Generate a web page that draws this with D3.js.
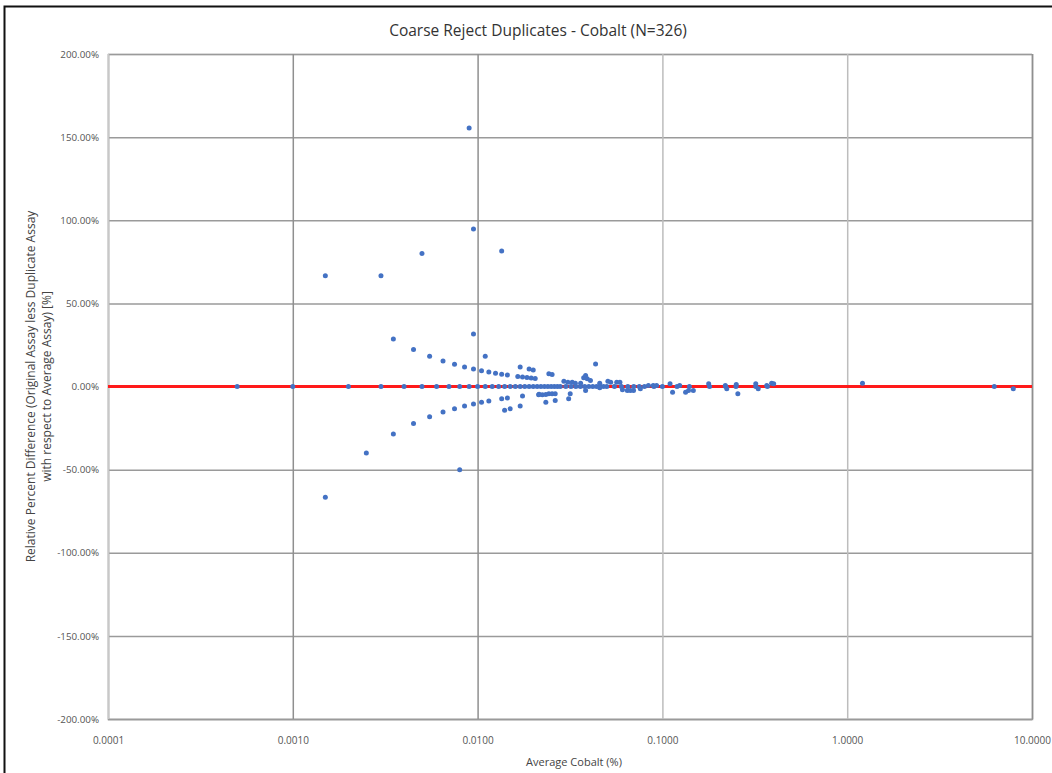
<!DOCTYPE html>
<html><head><meta charset="utf-8">
<script src="https://cdn.jsdelivr.net/npm/d3@7/dist/d3.min.js"></script>
<style>body{margin:0;background:#fff}svg{display:block}</style>
</head><body>
<svg id="c" width="1052" height="773"></svg>
<script>
const title = "Coarse Reject Duplicates - Cobalt (N=326)";
const xTitle = "Average Cobalt (%)";
const yTitle1 = "Relative Percent Difference (Original Assay less Duplicate Assay";
const yTitle2 = "with respect to Average Assay) [%]";
const xTicks = [0.0001, 0.001, 0.01, 0.1, 1, 10];
const xTickLabels = ["0.0001", "0.0010", "0.0100", "0.1000", "1.0000", "10.0000"];
const yTicks = [200, 150, 100, 50, 0, -50, -100, -150, -200];
const yTickLabels = ["200.00%", "150.00%", "100.00%", "50.00%", "0.00%", "-50.00%", "-100.00%", "-150.00%", "-200.00%"];

// Average Cobalt (%) and relative percent difference (%) for each duplicate pair
const avgCobalt = [
  0.0005, 0.001, 0.002, 0.003, 0.004, 0.005, 0.006, 0.007, 0.008, 0.009, 0.010, 0.011, 0.012, 0.013,
  0.014, 0.015, 0.016, 0.017, 0.018, 0.019, 0.020, 0.021, 0.022, 0.023, 0.024, 0.025, 0.026, 0.027,
  0.028, 0.030, 0.032, 0.034, 0.036, 0.038, 0.040, 0.042, 0.044, 0.046, 0.048, 0.050, 0.055, 0.060,
  0.065, 0.070, 0.075, 0.080, 0.090, 0.100, 0.120, 0.140, 0.180, 0.220, 0.250, 0.320, 0.370, 6.25,
  0.0035, 0.0045, 0.0055, 0.0065, 0.0075, 0.0085, 0.0095, 0.0105, 0.0115, 0.0125, 0.0135, 0.0145,
  0.0165, 0.0175, 0.0185, 0.0195, 0.0205,
  0.0035, 0.0045, 0.0055, 0.0065, 0.0075, 0.0085, 0.0095, 0.0105, 0.0115, 0.0135, 0.0145, 0.0175, 0.0215,
  0.0015, 0.0015, 0.003, 0.0025, 0.005, 0.009, 0.0095, 0.0135, 0.0095, 0.011, 0.008,
  0.017, 0.019, 0.020, 0.014, 0.015, 0.017, 0.0435,
  0.0234, 0.0263, 0.0311, 0.0317, 0.0214, 0.0224, 0.0234, 0.0243, 0.0253, 0.0263,
  0.0243, 0.0253, 0.0375, 0.0384,
  0.0293, 0.0308, 0.0325, 0.0338, 0.0361, 0.0392, 0.0408, 0.0384, 0.0458, 0.0458,
  0.0507, 0.0525, 0.0566, 0.0589, 0.0608, 0.0646, 0.0671, 0.0698, 0.0760, 0.0840, 0.0892, 0.0930,
  0.110, 0.1135, 0.124, 0.1335, 0.1385, 0.147, 0.178, 0.219, 0.223, 0.251, 0.256, 0.32, 0.33,
  0.367, 0.39, 0.40, 1.21, 7.92
];
const rpd = [
  0, 0, 0, 0, 0, 0, 0, 0, 0, 0, 0, 0, 0, 0,
  0, 0, 0, 0, 0, 0, 0, 0, 0, 0, 0, 0, 0, 0,
  0, 0, 0, 0, 0, 0, 0, 0, 0, 0, 0, 0, 0, 0,
  0, 0, 0, 0, 0, 0, 0, 0, 0, 0, 0, 0, 0, 0,
  28.57, 22.22, 18.18, 15.38, 13.33, 11.76, 10.53, 9.52, 8.70, 8.00, 7.41, 6.90,
  6.06, 5.71, 5.41, 5.13, 4.88,
  -28.57, -22.22, -18.18, -15.38, -13.33, -11.76, -10.53, -9.52, -8.70, -7.41, -6.90, -5.71, -4.65,
  66.67, -66.67, 66.67, -40.0, 80.0, 155.56, 94.74, 81.48, 31.58, 18.18, -50.0,
  11.76, 10.53, 10.0, -14.29, -13.33, -11.76, 13.6,
  -9.4, -8.4, -7.4, -4.4, -5.0, -5.0, -4.8, -4.4, -4.4, -4.4,
  7.6, 7.2, 5.2, 6.6,
  3.2, 2.6, 2.6, 2.0, 2.0, 4.6, 3.6, -2.4, 2.0, -0.8,
  3.2, 2.6, 2.6, 2.6, -2.0, -2.4, -2.4, -2.4, -1.4, 0.6, 0.6, 0.6,
  1.6, -3.4, 0.6, -3.4, -2.4, -2.4, 1.6, 0.6, -1.4, 1.2, -4.4, 1.6, -1.4,
  0.6, 2.0, 1.6, 2.0, -1.4
];

const svg = d3.select("#c");
const W = 1052, H = 773;
const m = {left: 108, right: 1032, top: 54, bottom: 719};
svg.append("rect").attr("width", W).attr("height", H).attr("fill", "#fff");
svg.append("rect").attr("x", 4.5).attr("y", 6.5).attr("width", W + 20).attr("height", H + 20)
  .attr("fill", "none").attr("stroke", "#111").attr("stroke-width", 2);

const x = d3.scaleLog().domain([0.0001, 10]).range([m.left, m.right]);
const y = d3.scaleLinear().domain([-200, 200]).range([m.bottom, m.top]);

const font = "'Open Sans', 'Liberation Sans', sans-serif";

// Horizontal gridlines
const yAxis = d3.axisLeft(y).tickValues(yTicks).tickSize(-(m.right - m.left))
  .tickFormat((d, i) => yTickLabels[i]).tickPadding(9);
const gy = svg.append("g").attr("transform", `translate(${m.left},0)`).call(yAxis);
gy.select(".domain").attr("stroke", "#c8c8c8").attr("stroke-width", 1.5);
gy.selectAll(".tick line").attr("stroke", "#9a9a9a").attr("stroke-width", 1.5);
gy.selectAll(".tick text").attr("fill", "#555").style("font-family", font).style("font-size", "9.8px");

// Vertical gridlines
const xAxis = d3.axisBottom(x).tickValues(xTicks).tickSize(-(m.bottom - m.top))
  .tickFormat((d, i) => xTickLabels[i]).tickPadding(18);
const gx = svg.append("g").attr("transform", `translate(0,${m.bottom})`).call(xAxis);
gx.select(".domain").attr("stroke", "#9a9a9a").attr("stroke-width", 1.5);
gx.selectAll(".tick line").attr("stroke", (d, i) => (i === 1 || i === 2 || i === 5) ? "#8f8f8f" : "#bdbdbd").attr("stroke-width", 1.5);
gx.selectAll(".tick").filter(d => d === 0.0001).select("line").attr("stroke", "#c8c8c8");
gx.selectAll(".tick text").attr("fill", "#555").style("font-family", font).style("font-size", "10px");

// Zero line
svg.append("line").attr("x1", x(0.0001)).attr("x2", x(10)).attr("y1", y(0)).attr("y2", y(0))
  .attr("stroke", "#ff1a1a").attr("stroke-width", 3);

// Points
const pts = avgCobalt.map((v, i) => ({x: v, y: rpd[i]}));
svg.append("g").selectAll("circle").data(pts).join("circle")
  .attr("cx", d => x(d.x)).attr("cy", d => y(d.y)).attr("r", 2.5).attr("fill", "#4472c4");

// Titles
svg.append("text").attr("x", 538).attr("y", 36).attr("text-anchor", "middle")
  .style("font-family", font).style("font-size", "15.5px").attr("fill", "#333").text(title);
svg.append("text").attr("x", 574).attr("y", 766).attr("text-anchor", "middle")
  .style("font-family", font).style("font-size", "11px").attr("fill", "#444").text(xTitle);
const yt = svg.append("text").attr("transform", `translate(0,${y(0)}) rotate(-90)`)
  .attr("text-anchor", "middle").style("font-family", font).style("font-size", "12px").attr("fill", "#444");
yt.append("tspan").attr("x", 0).attr("y", 35).text(yTitle1);
yt.append("tspan").attr("x", 0).attr("y", 51).text(yTitle2);
</script>
</body></html>
